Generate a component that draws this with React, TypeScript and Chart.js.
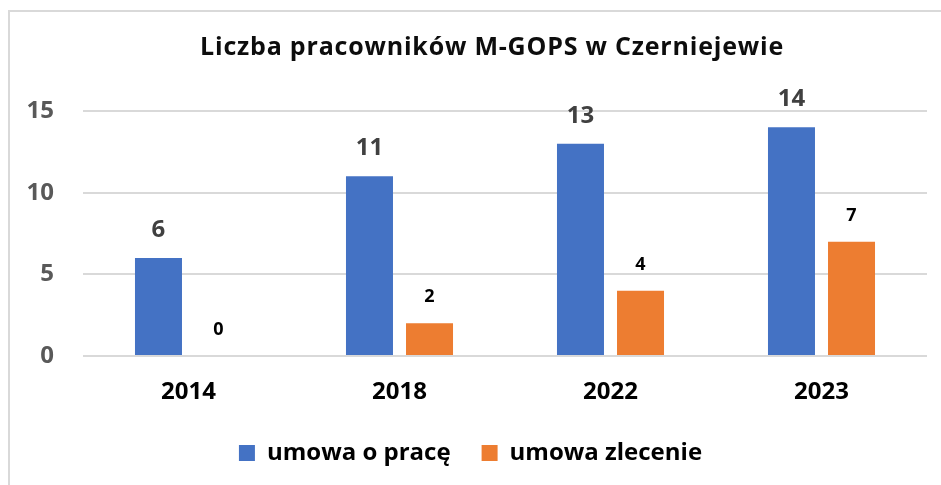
import React, { useEffect, useRef } from "react";
import { Chart, registerables } from "chart.js";

Chart.register(...registerables);

const TITLE = "Liczba pracowników M-GOPS w Czerniejewie";
const categories = ["2014", "2018", "2022", "2023"];
const seriesNames = ["umowa o pracę", "umowa zlecenie"];
const umowaOPrace = [6, 11, 13, 14];
const umowaZlecenie = [0, 2, 4, 7];
const yTicks = [0, 5, 10, 15];

const FONT = "'Open Sans', 'Noto Sans', sans-serif";

const framePlugin = {
  id: "frame",
  beforeDraw(chart: any) {
    const { ctx, width, height } = chart;
    ctx.save();
    ctx.fillStyle = "#ffffff";
    ctx.fillRect(0, 0, width, height);
    ctx.strokeStyle = "#d9d9d9";
    ctx.lineWidth = 2;
    ctx.beginPath();
    ctx.moveTo(width, 11);
    ctx.lineTo(9, 11);
    ctx.lineTo(9, height);
    ctx.stroke();
    ctx.restore();
  },
};

const titlePlugin = {
  id: "customTitle",
  afterDraw(chart: any) {
    const { ctx } = chart;
    ctx.save();
    ctx.font = `bold 25px ${FONT}`;
    if ("letterSpacing" in ctx) (ctx as any).letterSpacing = "0.8px";
    ctx.fillStyle = "#0d0d0d";
    ctx.textAlign = "center";
    ctx.textBaseline = "middle";
    ctx.fillText(TITLE, 492, 48);
    ctx.restore();
  },
};

const valueLabelPlugin = {
  id: "valueLabels",
  afterDatasetsDraw(chart: any) {
    const { ctx } = chart;
    const styles = [
      { font: `bold 24px ${FONT}`, color: "#404040", offset: 28 },
      { font: `bold 18px ${FONT}`, color: "#000000", offset: 26 },
    ];
    chart.data.datasets.forEach((ds: any, i: number) => {
      const meta = chart.getDatasetMeta(i);
      const st = styles[i];
      ctx.save();
      ctx.font = st.font;
      ctx.fillStyle = st.color;
      ctx.textAlign = "center";
      ctx.textBaseline = "middle";
      meta.data.forEach((el: any, j: number) => {
        ctx.fillText(String(ds.data[j]), el.x, el.y - st.offset);
      });
      ctx.restore();
    });
  },
};

export default function App() {
  const ref = useRef<HTMLCanvasElement | null>(null);

  useEffect(() => {
    if (!ref.current) return;
    const chart = new Chart(ref.current, {
      type: "bar",
      data: {
        labels: categories,
        datasets: [
          {
            label: seriesNames[0],
            data: umowaOPrace,
            backgroundColor: "#4472C4",
            borderWidth: 0,
            categoryPercentage: 0.569,
            barPercentage: 0.783,
          },
          {
            label: seriesNames[1],
            data: umowaZlecenie,
            backgroundColor: "#ED7D31",
            borderWidth: 0,
            categoryPercentage: 0.569,
            barPercentage: 0.783,
          },
        ],
      },
      options: {
        responsive: false,
        animation: false,
        layout: { padding: { top: 111, right: 0, bottom: 10, left: 0 } },
        plugins: {
          title: { display: false },
          tooltip: { enabled: false },
          legend: {
            display: true,
            position: "bottom",
            labels: {
              boxWidth: 16,
              boxHeight: 16,
              padding: 31,
              color: "#000000",
              font: { family: FONT, size: 24, weight: "bold" },
            },
          },
        },
        scales: {
          x: {
            grid: { display: false, drawTicks: false },
            border: { display: false },
            ticks: {
              padding: 22,
              color: "#000000",
              font: { family: FONT, size: 24, weight: "bold" },
            },
            afterFit: (s: any) => {
              s.height = 54;
            },
          },
          y: {
            min: 0,
            max: 15,
            afterBuildTicks: (s: any) => {
              s.ticks = yTicks.map((v) => ({ value: v }));
            },
            grid: { color: "#d9d9d9", lineWidth: 2, drawTicks: false },
            border: { display: false },
            ticks: {
              padding: 29,
              color: "#595959",
              font: { family: FONT, size: 24, weight: "bold" },
            },
            afterFit: (s: any) => {
              s.width = 83;
            },
          },
          yRight: {
            position: "right",
            display: true,
            grid: { display: false },
            border: { display: false },
            ticks: { display: false },
            afterFit: (s: any) => {
              s.width = 14;
            },
          },
        },
      },
      plugins: [framePlugin, valueLabelPlugin, titlePlugin],
    });
    return () => chart.destroy();
  }, []);

  return (
    <div style={{ position: "absolute", left: 0, top: 0, width: 941, height: 485 }}>
      <canvas ref={ref} width={941} height={485} style={{ display: "block" }} />
    </div>
  );
}
